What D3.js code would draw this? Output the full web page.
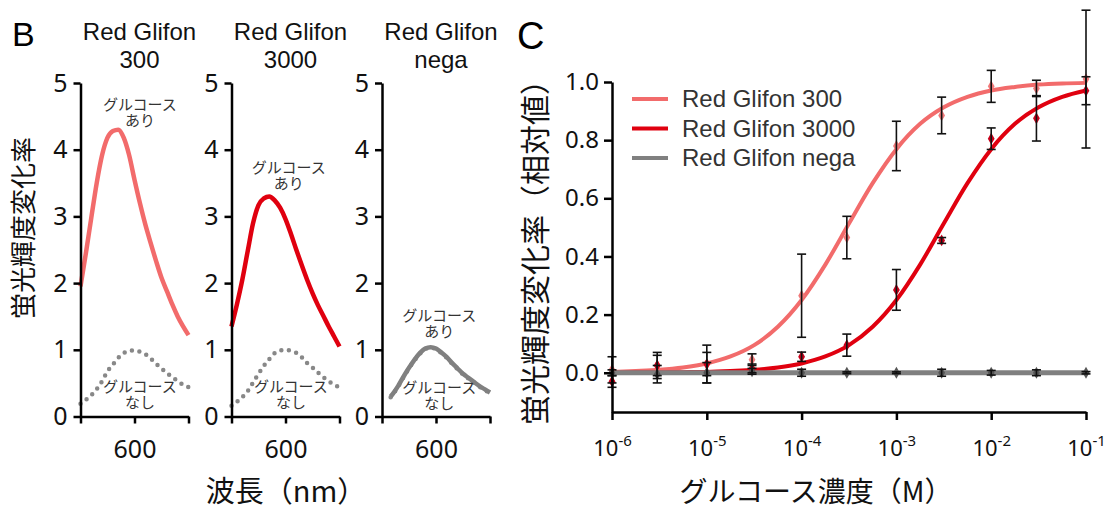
<!DOCTYPE html>
<html>
<head>
<meta charset="utf-8">
<script src="https://cdn.jsdelivr.net/npm/d3@7"></script>
<style>
  body { margin: 0; background: #fff; }
  svg { display: block; }
  .axis path, .axis line { stroke: #000; stroke-width: 2.5; }
  .axis text { font-family: "Noto Sans", sans-serif; fill: #111; }
  .jp { font-family: "Noto Sans CJK JP", sans-serif; }
</style>
</head>
<body>
<svg id="chart" width="1109" height="511"></svg>
<script>
// ---- panel B : emission spectra ----
const wavelengths = [550, 555, 560, 565, 570, 575, 580, 585, 590, 595, 600, 605, 610, 615, 620, 625, 630, 635, 640, 645, 650]
const negaWavelengths = [558, 560, 565, 570, 575, 580, 585, 590, 595, 600, 605, 610, 615, 620, 625, 630, 635, 640, 645, 650]
const panelTitles = [["Red Glifon", "300"], ["Red Glifon", "3000"], ["Red Glifon", "nega"]]

const withGlucose300  = [1.95, 2.45, 2.98, 3.5, 3.92, 4.18, 4.28, 4.3, 4.18, 3.92, 3.55, 3.2, 2.88, 2.6, 2.33, 2.08, 1.88, 1.68, 1.5, 1.35, 1.22]
const noGlucose300    = [0.19, 0.25, 0.32, 0.41, 0.53, 0.68, 0.78, 0.88, 0.95, 0.985, 0.99, 0.97, 0.935, 0.87, 0.79, 0.72, 0.65, 0.59, 0.53, 0.475, 0.44]
const withGlucose3000 = [1.35, 1.68, 2.05, 2.48, 2.9, 3.17, 3.27, 3.3, 3.24, 3.13, 2.96, 2.74, 2.5, 2.27, 2.05, 1.85, 1.67, 1.51, 1.35, 1.2, 1.05]
const noGlucose3000   = [0.16, 0.22, 0.29, 0.38, 0.51, 0.64, 0.76, 0.86, 0.95, 0.99, 1.0, 0.985, 0.955, 0.89, 0.8, 0.735, 0.66, 0.59, 0.53, 0.475, 0.44]
const withGlucoseNega = [0.3, 0.34, 0.46, 0.6, 0.73, 0.85, 0.95, 1.02, 1.04, 1.02, 0.96, 0.89, 0.8, 0.72, 0.64, 0.58, 0.52, 0.46, 0.41, 0.36]
const noGlucoseNega   = [0.29, 0.33, 0.45, 0.59, 0.72, 0.84, 0.94, 1.01, 1.03, 1.01, 0.95, 0.88, 0.79, 0.71, 0.63, 0.57, 0.51, 0.45, 0.4, 0.35]

// ---- panel C : dose response ----
const concentrations = [1e-6, 3e-6, 1e-5, 3e-5, 1e-4, 3e-4, 1e-3, 3e-3, 1e-2, 3e-2, 1e-1]
const mean300  = [0.01, 0.025, 0.03, 0.045, 0.265, 0.465, 0.78, 0.885, 0.985, 0.978, 1.01]
const err300   = [0.045, 0.045, 0.065, 0.02, 0.143, 0.073, 0.085, 0.063, 0.055, 0.028, 0.237]
const mean3000 = [-0.03, 0.025, 0.03, 0.015, 0.055, 0.095, 0.285, 0.455, 0.805, 0.875, 0.97]
const err3000  = [0.02, 0.035, 0.04, 0.015, 0.016, 0.038, 0.07, 0.01, 0.037, 0.078, 0.048]
const meanNega = [0.0, -0.005, 0.0, 0.005, 0.0, 0.0, 0.0, 0.0, 0.0, 0.0, 0.0]
const errNega  = [0.01, 0.03, 0.035, 0.01, 0.012, 0.003, 0.003, 0.012, 0.008, 0.01, 0.004]

const fitConc = [1e-6, 1.78e-6, 3.16e-6, 5.62e-6, 1e-5, 1.78e-5, 3.16e-5, 5.62e-5, 1e-4, 1.78e-4, 3.16e-4,
                 5.62e-4, 1e-3, 1.78e-3, 3.16e-3, 5.62e-3, 1e-2, 1.78e-2, 3.16e-2, 5.62e-2, 1e-1]
const fit300  = [0.003, 0.006, 0.01, 0.018, 0.032, 0.056, 0.095, 0.158, 0.25, 0.372, 0.513,
                 0.652, 0.769, 0.856, 0.913, 0.949, 0.971, 0.983, 0.991, 0.995, 0.997]
const fit3000 = [0.0, 0.001, 0.001, 0.002, 0.003, 0.006, 0.01, 0.018, 0.032, 0.056, 0.095,
                 0.158, 0.25, 0.372, 0.513, 0.652, 0.769, 0.856, 0.913, 0.949, 0.971]
const fitNega = [0, 0, 0, 0, 0, 0, 0, 0, 0, 0, 0, 0, 0, 0, 0, 0, 0, 0, 0, 0, 0]
const legendNames = ["Red Glifon 300", "Red Glifon 3000", "Red Glifon nega"]
const decadeTicks = [1e-6, 1e-5, 1e-4, 1e-3, 1e-2, 1e-1]

const colors = ["#f26b6b", "#e0000f", "#808080"]
const markerColors = ["#f07a7a", "#c8001a", "#555"]

const svg = d3.select("#chart")

// ================= panel B =================
svg.append("text").attr("x", 12).attr("y", 46)
  .attr("font-family", "Liberation Sans, sans-serif").attr("font-size", 34).text("B")

const specPanels = [
  { x0: 80.5, wl: wavelengths, on: withGlucose300, off: noGlucose300, offWl: wavelengths, color: colors[0], onLab: [605, 4.68], offLab: [605, 0.45] },
  { x0: 231.5, wl: wavelengths, on: withGlucose3000, off: noGlucose3000, offWl: wavelengths, color: colors[1], onLab: [603, 3.74], offLab: [605, 0.45] },
  { x0: 382, wl: negaWavelengths, on: withGlucoseNega, off: noGlucoseNega, offWl: negaWavelengths, color: colors[2], onLab: [603, 1.52], offLab: [603, 0.44] }
]

const yB = d3.scaleLinear().domain([0, 5]).range([416.5, 83])

specPanels.forEach((p, i) => {
  const x = d3.scaleLinear().domain([550, 650]).range([p.x0, p.x0 + 108])
  const g = svg.append("g")

  const line = d3.line().x(d => x(d[0])).y(d => yB(d[1])).curve(d3.curveMonotoneX)

  g.append("path")
    .attr("d", line(p.offWl.map((w, k) => [w, p.off[k]])))
    .attr("fill", "none").attr("stroke", "#888").attr("stroke-width", 4.5)
    .attr("stroke-linecap", "round").attr("stroke-dasharray", "0,7.6")
  g.append("path")
    .attr("d", line(p.wl.map((w, k) => [w, p.on[k]])))
    .attr("fill", "none").attr("stroke", p.color).attr("stroke-width", 4.5)
    .attr("stroke-linejoin", "round")

  g.append("g").attr("class", "axis").attr("transform", `translate(0,${yB(0)})`)
    .call(d3.axisBottom(x).tickValues([550, 600, 650]).tickFormat(d => d === 600 ? "600" : "")
      .tickSize(7).tickPadding(17).tickSizeOuter(0))
    .selectAll("text").attr("font-size", 25)
  g.append("g").attr("class", "axis").attr("transform", `translate(${p.x0},0)`)
    .call(d3.axisLeft(yB).ticks(5).tickSize(7).tickPadding(6).tickSizeOuter(0))
    .selectAll("text").attr("font-size", 25)

  // titles
  panelTitles[i].forEach((t, k) => {
    g.append("text").attr("x", x(600) + 5).attr("y", 40 + k * 28)
      .attr("text-anchor", "middle").attr("font-family", "Liberation Sans, sans-serif")
      .attr("font-size", 24).attr("fill", "#111").text(t)
  })

  // annotations
  const note = (pos, lines) => {
    lines.forEach((t, k) => {
      g.append("text").attr("class", "jp")
        .attr("x", x(pos[0])).attr("y", yB(pos[1]) + 5.5 + k * 16.5)
        .attr("text-anchor", "middle").attr("font-size", 15).attr("fill", "#333").text(t)
    })
  }
  note(p.onLab, ["グルコース", "あり"])
  note(p.offLab, ["グルコース", "なし"])
})

svg.append("text").attr("class", "jp")
  .attr("transform", "translate(33,228) rotate(-90)")
  .attr("text-anchor", "middle").attr("font-size", 26).attr("fill", "#111").text("蛍光輝度変化率")
svg.append("text").attr("class", "jp")
  .attr("x", 286).attr("y", 502)
  .attr("text-anchor", "middle").attr("font-size", 29).attr("fill", "#111").text("波長（nm）")

// ================= panel C =================
svg.append("text").attr("x", 517).attr("y", 49)
  .attr("font-family", "Liberation Sans, sans-serif").attr("font-size", 38).text("C")

const xC = d3.scaleLog().domain([1e-6, 1e-1]).range([612, 1086])
const yC = d3.scaleLinear().domain([-0.135, 1.0]).range([412, 82])
const gC = svg.append("g")

const fitLine = d3.line().x(d => xC(d[0])).y(d => yC(d[1])).curve(d3.curveMonotoneX)
const fits = [fit300, fit3000, fitNega]
fits.forEach((f, i) => {
  gC.append("path")
    .attr("d", fitLine(fitConc.map((c, k) => [c, f[k]])))
    .attr("fill", "none").attr("stroke", colors[i]).attr("stroke-width", i === 2 ? 5 : 4)
})

const series = [[mean300, err300], [mean3000, err3000], [meanNega, errNega]]
const diamond = d3.symbol().type(d3.symbolDiamond).size(40)
series.forEach(([m], i) => {
  gC.selectAll(null).data(concentrations).enter().append("path")
    .attr("d", diamond)
    .attr("transform", (c, k) => `translate(${xC(c)},${yC(m[k])})`)
    .attr("fill", markerColors[i])
})
series.forEach(([m, e]) => {
  concentrations.forEach((c, k) => {
    const cx = xC(c), top = yC(m[k] + e[k]), bot = yC(m[k] - e[k])
    const eb = gC.append("g").attr("stroke", "#111").attr("stroke-width", 1.6)
    eb.append("line").attr("x1", cx).attr("x2", cx).attr("y1", top).attr("y2", bot)
    eb.append("line").attr("x1", cx - 4.5).attr("x2", cx + 4.5).attr("y1", top).attr("y2", top)
    eb.append("line").attr("x1", cx - 4.5).attr("x2", cx + 4.5).attr("y1", bot).attr("y2", bot)
  })
})

const xAxC = gC.append("g").attr("class", "axis").attr("transform", `translate(0,${yC(-0.135)})`)
  .call(d3.axisBottom(xC).tickValues(decadeTicks).tickSize(8).tickPadding(20).tickSizeOuter(0))
xAxC.selectAll(".tick text").text("").attr("font-size", 22)
  .each(function (d) {
    const t = d3.select(this)
    t.append("tspan").text("10")
    t.append("tspan").attr("dy", -10).attr("font-size", 15).text(Math.round(Math.log10(d)))
  })

gC.append("g").attr("class", "axis").attr("transform", `translate(${xC(1e-6)},0)`)
  .call(d3.axisLeft(yC).tickValues([0, 0.2, 0.4, 0.6, 0.8, 1.0]).tickFormat(d3.format(".1f"))
    .tickSize(8).tickPadding(5).tickSizeOuter(0))
  .selectAll("text").attr("font-size", 24)

// legend
legendNames.forEach((name, i) => {
  const ly = 99 + i * 29.5
  gC.append("line").attr("x1", 632).attr("x2", 668).attr("y1", ly).attr("y2", ly)
    .attr("stroke", colors[i]).attr("stroke-width", 4)
  gC.append("text").attr("x", 682).attr("y", ly + 8)
    .attr("font-family", "Liberation Sans, sans-serif").attr("font-size", 24)
    .attr("fill", "#333").text(name)
})

svg.append("text").attr("class", "jp")
  .attr("transform", "translate(546,245) rotate(-90)")
  .attr("text-anchor", "middle").attr("font-size", 30).attr("fill", "#111").text("蛍光輝度変化率（相対値）")
svg.append("text").attr("class", "jp")
  .attr("x", 816).attr("y", 502)
  .attr("text-anchor", "middle").attr("font-size", 28).attr("fill", "#111").text("グルコース濃度（M）")
</script>
</body>
</html>
